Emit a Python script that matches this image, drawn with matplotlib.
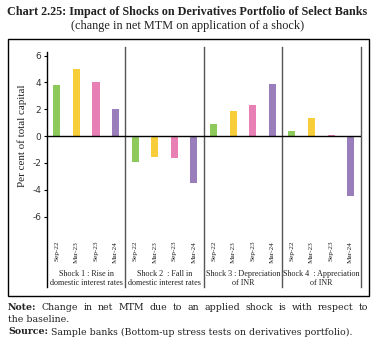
import matplotlib
matplotlib.use("Agg")
import matplotlib.pyplot as plt
from matplotlib.patches import Rectangle

plt.rcParams['axes.unicode_minus'] = False

periods = ["Sep-22", "Mar-23", "Sep-23", "Mar-24"]
shocks = ["Shock 1 : Rise in\ndomestic interest rates",
          "Shock 2  : Fall in\ndomestic interest rates",
          "Shock 3 : Depreciation\nof INR",
          "Shock 4  : Appreciation\nof INR"]
values_shock1 = [3.78, 5.0, 4.05, 2.04]
values_shock2 = [-1.9, -1.52, -1.6, -3.46]
values_shock3 = [0.92, 1.89, 2.34, 3.9]
values_shock4 = [0.4, 1.37, 0.1, -4.43]
period_colors = ["#8DC95B", "#F7CE3A", "#E880B5", "#9A7EBB"]
yticks = [-6, -4, -2, 0, 2, 4, 6]

W, H = 377, 350
fig = plt.figure(figsize=(W / 100, H / 100), dpi=100)
serif = "Liberation Serif"
wide = "DejaVu Serif"
txt = "#222222"

ax = fig.add_axes([47 / W, 1 - 225 / H, 313.5 / W, 178 / H])
all_vals = [values_shock1, values_shock2, values_shock3, values_shock4]
xs, hs, cs, labels = [], [], [], []
for g, vals in enumerate(all_vals):
    for i, v in enumerate(vals):
        xs.append(g * 4 + i)
        hs.append(v)
        cs.append(period_colors[i])
        labels.append(periods[i])
ax.bar(xs, hs, width=0.36, color=cs, zorder=2)
ax.set_xlim(-0.5, 15.5)
ax.set_ylim(-6.62, 6.64)
for s in ax.spines.values():
    s.set_visible(False)
ax.axhline(0, color="black", lw=1, zorder=3)

ax.set_yticks(yticks)
ax.set_yticklabels([str(t) for t in yticks], fontsize=6.5, color="#333333",
                   family="DejaVu Sans")
ax.tick_params(axis="y", direction="out", length=2.5, width=0.8, pad=1.5, color="black")

ax.set_xticks(xs)
ax.set_xticklabels(labels, rotation=90, fontsize=5.2, family=serif, color=txt)
ax.tick_params(axis="x", length=0, pad=11.5)

trans = ax.get_xaxis_transform()
ax.plot([-0.5, -0.5], [-0.35, 0.97], transform=trans, color="black", lw=1, clip_on=False)
for xv in [3.5, 7.5, 11.5, 15.5]:
    ax.plot([xv, xv], [-0.35, 1.0], transform=trans, color="#555555", lw=1, clip_on=False)
for g, lab in enumerate(shocks):
    ax.text(g * 4 + 1.5, -0.3, lab, transform=trans, ha="center", va="center",
            fontsize=5.9, family=serif, linespacing=1.2, color=txt)

fig.text(22 / W, 1 - 136 / H, "Per cent of total capital", rotation=90,
         ha="center", va="center", fontsize=7.9, family=serif, color=txt)

fig.patches.append(Rectangle((8 / W, 1 - 296 / H), 361 / W, 257 / H,
                             transform=fig.transFigure, fill=False,
                             edgecolor="black", lw=1))

fig.text(0.5 * (7 + 368) / W, 1 - 12 / H,
         "Chart 2.25: Impact of Shocks on Derivatives Portfolio of Select Banks",
         ha="center", va="center", fontsize=8.75, fontweight="bold", family=serif,
         color=txt)
fig.text(0.5 * (69 + 307) / W, 1 - 26 / H,
         "(change in net MTM on application of a shock)",
         ha="center", va="center", fontsize=8.8, family=serif, color=txt)

renderer = fig.canvas.get_renderer()
NS = 6.75

def justified(x0, x1, y, words, bold_first=True, size=NS):
    arts = []
    for k, w in enumerate(words):
        t = fig.text(0, 1 - y / H, w, ha="left", va="center", fontsize=size,
                     fontweight="bold" if (bold_first and k == 0) else "normal",
                     family=wide, color=txt)
        arts.append(t)
    widths = [a.get_window_extent(renderer=renderer).width for a in arts]
    gap = (x1 - x0 - sum(widths)) / (len(words) - 1)
    x = x0
    for a, wd in zip(arts, widths):
        a.set_x(x / W)
        x += wd + gap

def two_part(x, y, bold, rest, size=NS):
    t = fig.text(x / W, 1 - y / H, bold, ha="left", va="center", fontsize=size,
                 fontweight="bold", family=wide, color=txt)
    bb = t.get_window_extent(renderer=renderer)
    fig.text((bb.x1 + 3) / W, 1 - y / H, rest, ha="left", va="center",
             fontsize=size, family=wide, color=txt)

justified(8, 368, 307,
          "Note: Change in net MTM due to an applied shock is with respect to".split())
fig.text(8 / W, 1 - 319.5 / H, "the baseline.", ha="left", va="center", fontsize=NS,
         family=wide, color=txt)
two_part(8, 332, "Source:", "Sample banks (Bottom-up stress tests on derivatives portfolio).")

fig.savefig("out.png", dpi=100)
